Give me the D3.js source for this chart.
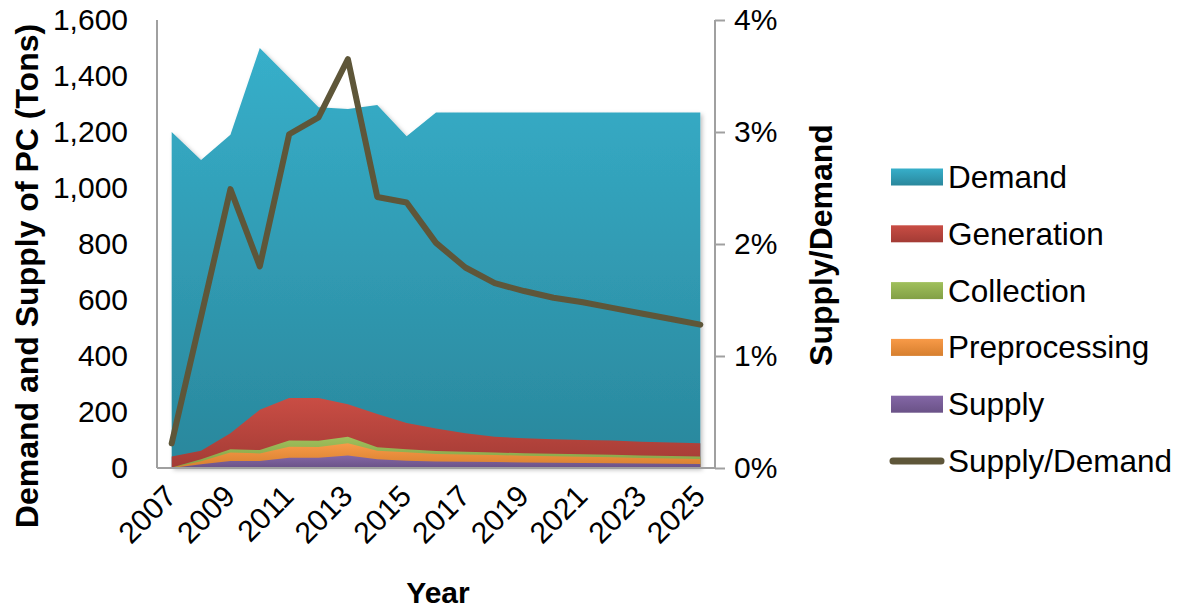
<!DOCTYPE html>
<html>
<head>
<meta charset="utf-8">
<script src="https://cdn.jsdelivr.net/npm/d3@7"></script>
<style>
  body { margin: 0; background: #fff; }
  svg text { font-family: "Liberation Sans", Arial, sans-serif; fill: #000; }
</style>
</head>
<body>
<svg id="chart" width="1181" height="612"></svg>
<script>
// Years on the category axis
const years = d3.range(2007, 2026);

// Tons of PC (left axis)
const demand = [1200, 1100, 1190, 1500, 1395, 1288, 1282, 1296, 1185, 1270, 1270, 1270, 1270, 1270, 1270, 1270, 1270, 1270, 1270];
const generation = [41, 62, 124, 208, 250, 250, 228, 193, 161, 141, 124, 112, 106, 103, 100, 98, 94, 91, 88];
const collection = [2, 31, 67, 64, 98, 97, 112, 74, 67, 61, 58, 55, 53, 51, 49, 47, 45, 43, 41];
const preprocessing = [1, 24, 55, 52, 76, 75, 88, 62, 56, 50, 48, 46, 44, 42, 40, 38, 36, 34, 32];
const supply = [0, 13, 25, 25, 37, 37, 45, 31, 26, 23, 22, 21, 20, 19, 18, 17, 16, 15, 14];

// Supply/Demand ratio (right axis)
const ratio = [0.0022, 0.0135, 0.0249, 0.0180, 0.0298, 0.0313, 0.0365, 0.0242, 0.0237, 0.0201, 0.0179, 0.0165, 0.0158, 0.0152, 0.0148, 0.0143, 0.0138, 0.0133, 0.0128];

const leftTicks = [0, 200, 400, 600, 800, 1000, 1200, 1400, 1600];
const rightTicks = [0, 0.01, 0.02, 0.03, 0.04];
const labelYears = years.filter((y, i) => i % 2 === 0);

const svg = d3.select("#chart");
const plot = {left: 157, right: 715, top: 20, bottom: 468};

const x = d3.scalePoint().domain(years).range([plot.left, plot.right]).padding(0.5);
const yL = d3.scaleLinear().domain([0, 1600]).range([plot.bottom, plot.top]);
const yR = d3.scaleLinear().domain([0, 0.04]).range([plot.bottom, plot.top]);

// Area series, back to front, with gradient stops (top, bottom)
const series = [
  {name: "Demand", values: demand, c: ["#37afca", "#2a879c"]},
  {name: "Generation", values: generation, c: ["#c94d44", "#a33b35"]},
  {name: "Collection", values: collection, c: ["#a0c05c", "#82a045"]},
  {name: "Preprocessing", values: preprocessing, c: ["#f89a48", "#d67f2e"]},
  {name: "Supply", values: supply, c: ["#8467a6", "#6a5287"]}
];
const lineColor = "#5e5639";

const defs = svg.append("defs");
series.forEach((s, i) => {
  const g = defs.append("linearGradient").attr("id", "grad" + i)
    .attr("x1", 0).attr("y1", 0).attr("x2", 0).attr("y2", 1);
  g.append("stop").attr("offset", "0%").attr("stop-color", s.c[0]);
  g.append("stop").attr("offset", "100%").attr("stop-color", s.c[1]);
});
defs.append("filter").attr("id", "shadow")
  .attr("x", "-5%").attr("y", "-5%").attr("width", "115%").attr("height", "115%")
  .append("feDropShadow")
  .attr("dx", 2).attr("dy", 2).attr("stdDeviation", 2)
  .attr("flood-color", "#000").attr("flood-opacity", 0.25);

// Areas
const area = d3.area()
  .x((d, i) => x(years[i]))
  .y0(yL(0))
  .y1(d => yL(d));

svg.append("g").selectAll("path")
  .data(series)
  .join("path")
  .attr("d", d => area(d.values))
  .attr("fill", (d, i) => "url(#grad" + i + ")")
  .attr("filter", (d, i) => i === 0 ? "url(#shadow)" : null);

// Axes
const axisColor = "#a0a0a0";

const leftAxis = svg.append("g")
  .attr("transform", "translate(" + plot.left + ",0)")
  .call(d3.axisLeft(yL).tickValues(leftTicks).tickFormat(d3.format(",")).tickSize(0).tickPadding(29));

const rightAxis = svg.append("g")
  .attr("transform", "translate(" + plot.right + ",0)")
  .call(d3.axisRight(yR).tickValues(rightTicks).tickFormat(d3.format(".0%")).tickSize(10).tickPadding(9));

const bottomAxis = svg.append("g")
  .attr("transform", "translate(0," + plot.bottom + ")")
  .call(d3.axisBottom(x).tickValues(labelYears).tickSize(0).tickPadding(0));

[leftAxis, rightAxis, bottomAxis].forEach(a => {
  a.select(".domain").attr("stroke", axisColor).attr("stroke-width", 2);
  a.selectAll(".tick line").attr("stroke", axisColor).attr("stroke-width", 2);
  a.selectAll("text").attr("font-size", 30).attr("font-family", "Liberation Sans, Arial, sans-serif").attr("fill", "#000");
});
bottomAxis.select(".domain").attr("d", "M" + plot.left + ",0H" + plot.right);
leftAxis.select(".domain").attr("d", "M0," + plot.top + "V" + plot.bottom);
rightAxis.select(".domain").attr("d", "M0," + plot.top + "V" + plot.bottom);

bottomAxis.selectAll("text")
  .attr("text-anchor", "end")
  .attr("dy", 0)
  .attr("transform", "translate(6,30) rotate(-45)");

// Supply/Demand line
const line = d3.line()
  .x((d, i) => x(years[i]))
  .y(d => yR(d));

svg.append("path")
  .datum(ratio)
  .attr("d", line)
  .attr("fill", "none")
  .attr("stroke", lineColor)
  .attr("stroke-width", 6)
  .attr("stroke-linejoin", "round")
  .attr("stroke-linecap", "round");

// Axis titles
svg.append("text")
  .attr("transform", "translate(38,276) rotate(-90)")
  .attr("text-anchor", "middle")
  .attr("font-size", 32).attr("font-weight", "bold")
  .text("Demand and Supply of PC (Tons)");

svg.append("text")
  .attr("transform", "translate(832,245) rotate(-90)")
  .attr("text-anchor", "middle")
  .attr("font-size", 32).attr("font-weight", "bold")
  .text("Supply/Demand");

svg.append("text")
  .attr("x", 438).attr("y", 603)
  .attr("text-anchor", "middle")
  .attr("font-size", 30).attr("font-weight", "bold")
  .text("Year");

// Legend
const legendItems = series.map((s, i) => ({name: s.name, grad: "url(#grad" + i + ")"}))
  .concat([{name: "Supply/Demand", line: true}]);

const legend = svg.append("g").attr("transform", "translate(891,177)");
const rows = legend.selectAll("g")
  .data(legendItems)
  .join("g")
  .attr("transform", (d, i) => "translate(0," + (i * 56.8) + ")");

rows.filter(d => !d.line).append("rect")
  .attr("x", 0).attr("y", -8.5).attr("width", 52).attr("height", 17)
  .attr("fill", d => d.grad);

rows.filter(d => d.line).append("line")
  .attr("x1", 2).attr("x2", 50).attr("y1", 0).attr("y2", 0)
  .attr("stroke", lineColor).attr("stroke-width", 7).attr("stroke-linecap", "round");

rows.append("text")
  .attr("x", 57).attr("y", 0).attr("dy", "0.35em")
  .attr("font-size", 31.5)
  .text(d => d.name);
</script>
</body>
</html>
